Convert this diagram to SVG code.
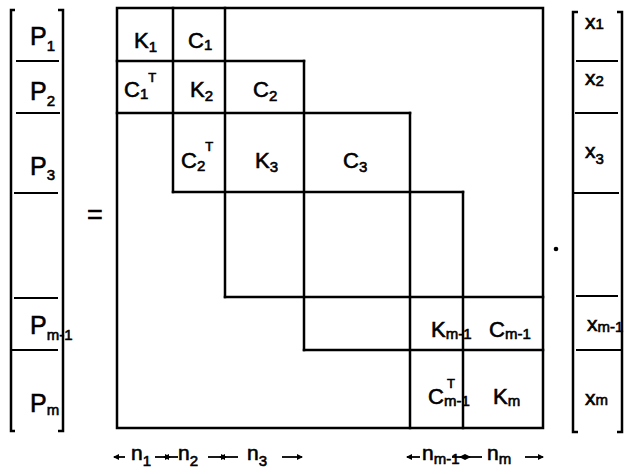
<svg xmlns="http://www.w3.org/2000/svg" width="627" height="474" viewBox="0 0 627 474">
<style>
.ln{stroke:#000;stroke-width:2.5;fill:none;stroke-linecap:square}
.br{stroke:#000;stroke-width:2.5;fill:none}
.sep{stroke:#000;stroke-width:2.2}
.t,.p,.x,.u{font-family:"Liberation Sans",Arial,sans-serif;fill:#000;stroke:#000;stroke-width:0.6}
.t{font-size:22px}
.p{font-size:25px}
.x{font-size:21px}
.s{font-size:15px}
.u{font-size:13px}
.ar{stroke:#000;stroke-width:1.8;fill:none;marker-end:url(#ah)}
</style>
<defs>
<marker id="ah" markerWidth="6" markerHeight="6" refX="5" refY="3" orient="auto" markerUnits="userSpaceOnUse">
<path d="M0,0 L6,3 L0,6 Z" fill="#000"/>
</marker>
</defs>
<rect width="627" height="474" fill="#fff"/>

<g id="p-vector">
<path class="br" d="M15,10 H11 V431 H15"/>
<path class="br" d="M58,10 H63 V431 H58"/>
<line class="sep" x1="16" y1="61" x2="59" y2="61"/>
<line class="sep" x1="16" y1="113" x2="60" y2="113"/>
<line class="sep" x1="14" y1="193" x2="58" y2="193"/>
<line class="sep" x1="14" y1="298" x2="58" y2="298"/>
<line class="sep" x1="12" y1="350" x2="58" y2="350"/>
<text class="p" x="30" y="45">P<tspan class="s" dy="6">1</tspan></text>
<text class="p" x="30" y="100">P<tspan class="s" dy="6">2</tspan></text>
<text class="p" x="30" y="175">P<tspan class="s" dy="5">3</tspan></text>
<text class="p" x="30" y="334">P<tspan class="s" dy="6">m-1</tspan></text>
<text class="p" x="30" y="412">P<tspan class="s" dy="3">m</tspan></text>
</g>

<g id="equals">
<text class="t" x="87" y="224" style="font-size:27px">=</text>
</g>

<g id="matrix-grid">
<rect class="ln" x="117" y="8" width="426" height="420"/>
<line class="ln" x1="173" y1="8" x2="173" y2="192"/>
<line class="ln" x1="225" y1="8" x2="225" y2="297"/>
<line class="ln" x1="304" y1="61" x2="304" y2="350"/>
<line class="ln" x1="410" y1="113" x2="410" y2="428"/>
<line class="ln" x1="463" y1="192" x2="463" y2="428"/>
<line class="ln" x1="117" y1="61" x2="304" y2="61"/>
<line class="ln" x1="117" y1="113" x2="410" y2="113"/>
<line class="ln" x1="173" y1="192" x2="463" y2="192"/>
<line class="ln" x1="225" y1="297" x2="543" y2="297"/>
<line class="ln" x1="304" y1="350" x2="543" y2="350"/>
</g>

<g id="block-K1"><text class="t" x="134" y="48">K<tspan class="s" dy="4">1</tspan></text></g>
<g id="block-C1"><text class="t" x="188" y="48">C<tspan class="s" dy="2">1</tspan></text></g>
<g id="block-C1T"><text class="t" x="124" y="97">C<tspan class="s" dy="2">1</tspan><tspan class="u" dy="-17">T</tspan></text></g>
<g id="block-K2"><text class="t" x="190" y="97">K<tspan class="s" dy="4">2</tspan></text></g>
<g id="block-C2"><text class="t" x="253" y="97">C<tspan class="s" dy="4">2</tspan></text></g>
<g id="block-C2T"><text class="t" x="181" y="168">C<tspan class="s" dy="3">2</tspan><tspan class="u" dy="-20">T</tspan></text></g>
<g id="block-K3"><text class="t" x="255" y="168">K<tspan class="s" dy="4">3</tspan></text></g>
<g id="block-C3"><text class="t" x="343" y="168">C<tspan class="s" dy="4">3</tspan></text></g>
<g id="block-Km-1"><text class="t" x="431" y="337">K<tspan class="s" dy="2">m-1</tspan></text></g>
<g id="block-Cm-1"><text class="t" x="489" y="337">C<tspan class="s" dy="2">m-1</tspan></text></g>
<g id="block-Cm-1T"><text class="t" x="428" y="404">C<tspan class="s" dy="2">m-1</tspan></text><text class="u" x="447" y="388">T</text></g>
<g id="block-Km"><text class="t" x="493" y="404">K<tspan class="s" dy="2">m</tspan></text></g>

<g id="dot"><circle cx="556" cy="249" r="2.3" fill="#000"/></g>

<g id="x-vector">
<path class="br" d="M578,12 H573 V432 H578"/>
<path class="br" d="M617,12 H622 V432 H617"/>
<line class="sep" x1="576" y1="61" x2="618" y2="61"/>
<line class="sep" x1="575" y1="113" x2="618" y2="113"/>
<line class="sep" x1="573" y1="193" x2="619" y2="193"/>
<line class="sep" x1="576" y1="296" x2="618" y2="296"/>
<line class="sep" x1="576" y1="350" x2="622" y2="350"/>
<text class="x" x="585" y="29">x<tspan class="s" dy="0">1</tspan></text>
<text class="x" x="585" y="85">x<tspan class="s" dy="1">2</tspan></text>
<text class="x" x="585" y="158">x<tspan class="s" dy="6">3</tspan></text>
<text class="x" x="587" y="331">x<tspan class="s" dy="1">m-1</tspan></text>
<text class="x" x="585" y="405">x<tspan class="s" dy="0">m</tspan></text>
</g>

<g id="dimension-labels">
<text class="x" x="131" y="460">n<tspan class="s" dy="6">1</tspan></text>
<text class="x" x="178" y="460">n<tspan class="s" dy="6">2</tspan></text>
<text class="x" x="247" y="460">n<tspan class="s" dy="6">3</tspan></text>
<text class="x" x="422" y="460">n<tspan class="s" dy="4">m-1</tspan></text>
<text class="x" x="487" y="460">n<tspan class="s" dy="4">m</tspan></text>
</g>

<g id="connectors">
<line class="ar" x1="125" y1="457" x2="114" y2="457"/>
<line class="ar" x1="155" y1="457" x2="170" y2="457"/>
<line class="ar" x1="178" y1="457" x2="164" y2="457"/>
<line class="ar" x1="208" y1="457" x2="226" y2="457"/>
<line class="ar" x1="238" y1="457" x2="220" y2="457"/>
<line class="ar" x1="282" y1="457" x2="302" y2="457"/>
<line class="ar" x1="420" y1="457" x2="407" y2="457"/>
<line class="ar" x1="452" y1="457" x2="470" y2="457"/>
<line class="ar" x1="482" y1="457" x2="460" y2="457"/>
<line class="ar" x1="525" y1="457" x2="543" y2="457"/>
</g>
</svg>
